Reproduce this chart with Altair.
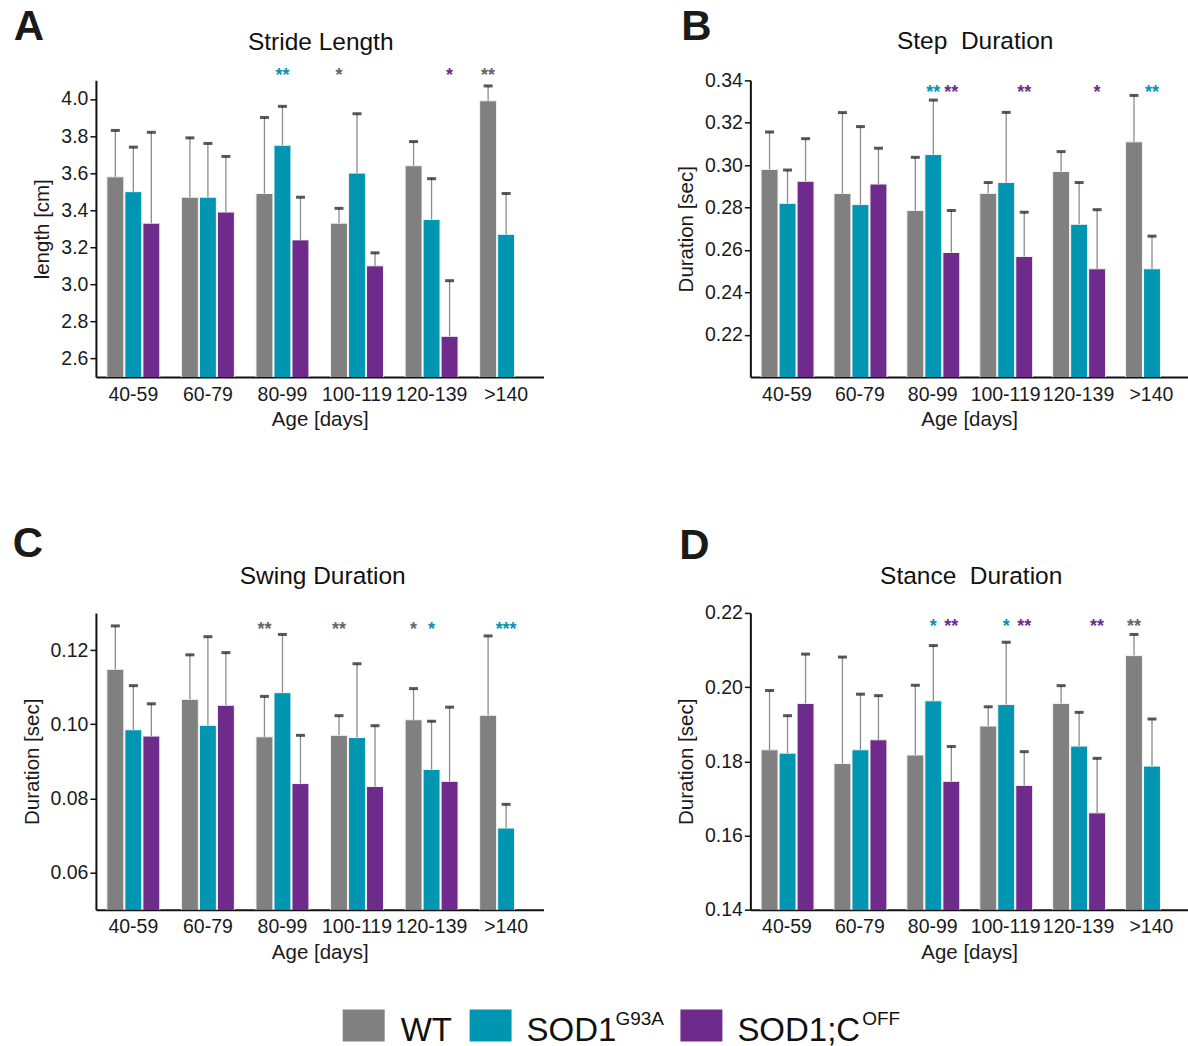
import altair as alt
import pandas as pd

groups = ["40-59", "60-79", "80-99", "100-119", "120-139", ">140"]
series = ["WT", "SOD1G93A", "SOD1;COFF"]
colors = ["#808080", "#0096b2", "#6f2b8c"]
star_colors = ["#666666", "#0096b2", "#6f2b8c"]

# A: Stride Length [cm]
stride_wt = [3.58, 3.47, 3.49, 3.33, 3.64, 3.99]
stride_wt_up = [3.83, 3.79, 3.90, 3.41, 3.77, 4.07]
stride_sod = [3.50, 3.47, 3.75, 3.60, 3.35, 3.27]
stride_sod_up = [3.74, 3.76, 3.96, 3.92, 3.57, 3.49]
stride_c = [3.33, 3.39, 3.24, 3.10, 2.72, None]
stride_c_up = [3.82, 3.69, 3.47, 3.17, 3.02, None]
stride_stars = [("80-99", "SOD1G93A", "**"), ("100-119", "WT", "*"),
                ("120-139", "SOD1;COFF", "*"), (">140", "WT", "**")]

# B: Step Duration [sec]
step_wt = [0.298, 0.2866, 0.2786, 0.2867, 0.297, 0.311]
step_wt_up = [0.3156, 0.3248, 0.3037, 0.2918, 0.3064, 0.3329]
step_sod = [0.282, 0.2814, 0.305, 0.2918, 0.2721, 0.2511]
step_sod_up = [0.2977, 0.3182, 0.3307, 0.3249, 0.2918, 0.2665]
step_c = [0.2924, 0.2911, 0.2588, 0.2569, 0.2511, None]
step_c_up = [0.3125, 0.308, 0.2786, 0.2778, 0.279, None]
step_stars = [("80-99", "SOD1G93A", "**"), ("80-99", "SOD1;COFF", "**"),
              ("100-119", "SOD1;COFF", "**"), ("120-139", "SOD1;COFF", "*"),
              (">140", "SOD1G93A", "**")]

# C: Swing Duration [sec]
swing_wt = [0.1148, 0.1067, 0.0966, 0.097, 0.1012, 0.1024]
swing_wt_up = [0.1265, 0.1187, 0.1075, 0.1023, 0.1096, 0.1238]
swing_sod = [0.0985, 0.0997, 0.1085, 0.0964, 0.0878, 0.072]
swing_sod_up = [0.1104, 0.1236, 0.1242, 0.1163, 0.1008, 0.0784]
swing_c = [0.0968, 0.1051, 0.084, 0.0832, 0.0846, None]
swing_c_up = [0.1055, 0.1193, 0.097, 0.0996, 0.1046, None]
swing_stars = [("80-99", "WT", "**"), ("100-119", "WT", "**"),
               ("120-139", "WT", "*"), ("120-139", "SOD1G93A", "*"),
               (">140", "SOD1G93A", "***")]

# D: Stance Duration [sec]
stance_wt = [0.1831, 0.1794, 0.1817, 0.1895, 0.1956, 0.2085]
stance_wt_up = [0.1991, 0.2081, 0.2005, 0.1947, 0.2004, 0.2142]
stance_sod = [0.1822, 0.1831, 0.1963, 0.1953, 0.1841, 0.1787]
stance_sod_up = [0.1923, 0.1981, 0.2112, 0.2121, 0.1932, 0.1914]
stance_c = [0.1956, 0.1858, 0.1746, 0.1735, 0.1661, None]
stance_c_up = [0.2089, 0.1977, 0.184, 0.1826, 0.1808, None]
stance_stars = [("80-99", "SOD1G93A", "*"), ("80-99", "SOD1;COFF", "**"),
                ("100-119", "SOD1G93A", "*"), ("100-119", "SOD1;COFF", "**"),
                ("120-139", "SOD1;COFF", "**"), (">140", "WT", "**")]

legend_names = ["WT", "SOD1", "SOD1;C"]
legend_sups = ["", "G93A", "OFF"]

FONT = "Liberation Sans"
PLOT_H = 297


def make_frame(means, ups):
    rows = []
    for s, m_list, u_list in zip(series, means, ups):
        for g, m, u in zip(groups, m_list, u_list):
            if m is None:
                continue
            rows.append({"group": g, "series": s, "mean": m, "up": u})
    return pd.DataFrame(rows)


def make_panel(letter, title, ytitle, domain, ticks, fmt, means, ups, stars,
               width, star_y, letter_xy, title_xy, extra=None):
    df = make_frame(means, ups)
    sdf = pd.DataFrame(stars, columns=["group", "series", "label"])
    x = alt.X("group:N", sort=groups,
              scale=alt.Scale(domain=groups, paddingInner=0.29, paddingOuter=0.147),
              axis=alt.Axis(title="Age [days]", labelAngle=0, ticks=False, tickSize=0,
                            labelPadding=8, titlePadding=6))
    xo = alt.XOffset("series:N", sort=series,
                     scale=alt.Scale(domain=series, paddingInner=0.06))
    yscale = alt.Scale(domain=domain, nice=False, zero=False)
    y = alt.Y("mean:Q", scale=yscale,
              axis=alt.Axis(values=ticks, format=fmt, title=ytitle, grid=False))
    base = alt.Chart(df)
    bars = base.mark_bar(stroke="#f4f4f4", strokeWidth=1, clip=True).encode(
        x=x, xOffset=xo, y=y,
        color=alt.Color("series:N", sort=series,
                        scale=alt.Scale(domain=series, range=colors), legend=None))
    err = base.mark_rule(color="#8c8c8c", strokeWidth=1.3).encode(
        x=x, xOffset=xo, y=alt.Y("mean:Q", scale=yscale), y2="up:Q")
    caps = base.mark_tick(color="#111111", size=9, thickness=3).encode(
        x=x, xOffset=xo, y=alt.Y("up:Q", scale=yscale))
    st = alt.Chart(sdf).mark_text(fontSize=18, fontWeight="bold", font=FONT,
                                  baseline="middle").encode(
        x=x, xOffset=xo, y=alt.value(star_y), text="label:N",
        color=alt.Color("series:N", sort=series,
                        scale=alt.Scale(domain=series, range=star_colors), legend=None))
    let = alt.Chart(pd.DataFrame({"t": [letter]})).mark_text(
        fontSize=42, fontWeight="bold", font=FONT, align="center", baseline="middle",
        color="#1a1a1a").encode(
        x=alt.value(letter_xy[0]), y=alt.value(letter_xy[1]), text="t:N")
    tit = alt.Chart(pd.DataFrame({"t": [title]})).mark_text(
        fontSize=24.5, font=FONT, align="center", baseline="middle",
        color="#111111").encode(
        x=alt.value(title_xy[0]), y=alt.value(title_xy[1]), text="t:N")
    layers = [bars, err, caps, st, let, tit] + (extra or [])
    return alt.layer(*layers).resolve_scale(color="independent").properties(
        width=width, height=PLOT_H)


# legend (drawn below panel C)
legend_layers = []
legend_pos = [(247, 305, None), (374, 431, 520), (585, 642, 767)]
for i in range(3):
    x0, tx, sx = legend_pos[i]
    d = pd.DataFrame({"name": [legend_names[i]], "sup": [legend_sups[i]]})
    legend_layers.append(alt.Chart(d).mark_rect(color=colors[i]).encode(
        x=alt.value(x0), x2=alt.value(x0 + 42), y=alt.value(397), y2=alt.value(429)))
    legend_layers.append(alt.Chart(d).mark_text(
        fontSize=33, font=FONT, align="left", baseline="alphabetic",
        color="#111111").encode(x=alt.value(tx), y=alt.value(428), text="name:N"))
    if legend_sups[i]:
        legend_layers.append(alt.Chart(d).mark_text(
            fontSize=19, font=FONT, align="left", baseline="alphabetic",
            color="#111111").encode(x=alt.value(sx), y=alt.value(412),
                                    text="sup:N"))

pA = make_panel("A", "Stride Length", "length [cm]", [2.5, 4.1],
                [2.6, 2.8, 3.0, 3.2, 3.4, 3.6, 3.8, 4.0], ".1f",
                [stride_wt, stride_sod, stride_c], [stride_wt_up, stride_sod_up, stride_c_up],
                stride_stars, 448, -4, (-67, -53), (225, -37))
pB = make_panel("B", "Step\u00a0 Duration", "Duration [sec]", [0.2, 0.34],
                [0.22, 0.24, 0.26, 0.28, 0.30, 0.32, 0.34], ".2f",
                [step_wt, step_sod, step_c], [step_wt_up, step_sod_up, step_c_up],
                step_stars, 438, 13, (-54, -53), (225, -38))
pC = make_panel("C", "Swing Duration", "Duration [sec]", [0.05, 0.13],
                [0.06, 0.08, 0.10, 0.12], ".2f",
                [swing_wt, swing_sod, swing_c], [swing_wt_up, swing_sod_up, swing_c_up],
                swing_stars, 448, 17, (-68, -69), (227, -36), extra=legend_layers)
pD = make_panel("D", "Stance\u00a0 Duration", "Duration [sec]", [0.14, 0.22],
                [0.14, 0.16, 0.18, 0.20, 0.22], ".2f",
                [stance_wt, stance_sod, stance_c], [stance_wt_up, stance_sod_up, stance_c_up],
                stance_stars, 438, 14, (-56, -67), (221, -36))

chart = alt.concat(pA, pB, pC, pD, columns=2, spacing={"row": 236, "column": 207},
                   bounds="flush").properties(
    padding={"left": 12, "top": 6, "right": 0, "bottom": 0},
    background="white",
).configure(font=FONT).configure_view(strokeWidth=0).configure_axis(
    labelFont=FONT, titleFont=FONT, labelFontSize=19.5, titleFontSize=20.5,
    titleFontWeight="normal", labelColor="#1a1a1a", titleColor="#1a1a1a",
    domainColor="#111111", domainWidth=2, tickColor="#111111", tickWidth=1.5,
).configure_axisY(tickSize=6, labelPadding=2, titlePadding=8)

chart.save("out.html", embed_options={"renderer": "svg", "actions": False})
